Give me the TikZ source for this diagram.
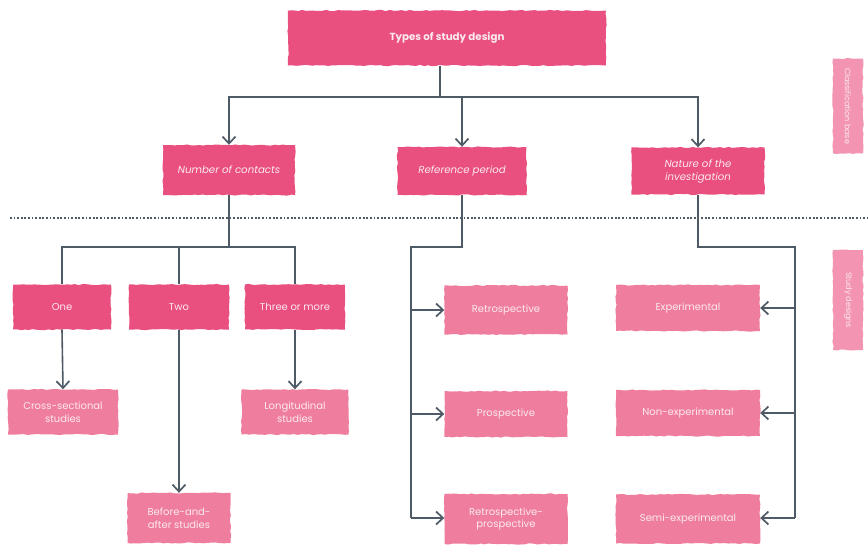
\documentclass[tikz,border=0pt]{standalone}
\usepackage{fontspec}
\setmainfont{Poppins}
\usetikzlibrary{arrows.meta,decorations.pathmorphing}
\definecolor{pkdark}{HTML}{E9507F}
\definecolor{pklight}{HTML}{EF7D9D}
\definecolor{pkside}{HTML}{F294B2}
\definecolor{ln}{HTML}{4E5A66}
\definecolor{txt}{HTML}{FCEAF0}
\pgfmathsetseed{7}
\tikzset{
  rough/.style={decorate, decoration={random steps, segment length=4pt, amplitude=0.6pt}},
  box/.style={draw=none, fill=pkdark, text=txt, align=center, inner sep=2pt, font=\fontsize{10}{12.5}\selectfont, rough},
  leaf/.style={box, fill=pklight},
  side/.style={fill=pkside, text=txt, rotate=-90, align=center, inner sep=1pt, font=\fontsize{8}{9}\selectfont, rough},
  line/.style={draw=ln, line width=1.6pt},
  arr/.style={line, -{Straight Barb[length=7pt,width=13pt,line width=1.7pt]}},
}
\begin{document}
\begin{tikzpicture}[x=1pt,y=-1pt]
\useasboundingbox (0,0) rectangle (868,544);
% nodes
\node[box, minimum width=318, minimum height=55, font=\fontsize{10.3}{12}\selectfont\bfseries] (top) at (447,38) {Types of study design};
\node[box, minimum width=132, minimum height=50, font=\fontsize{10.2}{12}\selectfont\itshape] (nc) at (229,170) {Number of contacts};
\node[box, minimum width=129, minimum height=48, font=\fontsize{10.2}{12}\selectfont\itshape] (rp) at (462,171) {Reference period};
\node[box, minimum width=133, minimum height=47, font=\fontsize{10.2}{13}\selectfont\itshape] (ni) at (698,171) {Nature of the\\investigation};
\node[box, minimum width=98, minimum height=45] (one) at (62,307) {One};
\node[box, minimum width=100, minimum height=45] (two) at (179,307) {Two};
\node[box, minimum width=100, minimum height=45] (three) at (295,307) {Three or more};
\node[leaf, minimum width=110, minimum height=45] (cross) at (63,412) {Cross-sectional\\studies};
\node[leaf, minimum width=107, minimum height=45] (long) at (295,412) {Longitudinal\\studies};
\node[leaf, minimum width=103, minimum height=50] (before) at (179,518) {Before-and-\\after studies};
\node[leaf, minimum width=123, minimum height=49] (retro) at (506,310) {Retrospective};
\node[leaf, minimum width=123, minimum height=46] (pro) at (506,414) {Prospective};
\node[leaf, minimum width=123, minimum height=50] (rpp) at (506,519) {Retrospective-\\prospective};
\node[leaf, minimum width=144, minimum height=46] (exp) at (688,308) {Experimental};
\node[leaf, minimum width=144, minimum height=46] (nonexp) at (688,413) {Non-experimental};
\node[leaf, minimum width=144, minimum height=49] (semi) at (688,519) {Semi-experimental};
\node[side, minimum width=95, minimum height=30] (cb) at (848,106) {Classification base};
\node[side, minimum width=100, minimum height=30] (sd) at (848,300) {Study designs};
% dotted separator
\coordinate (d0) at (10,218);
\coordinate (d1) at (868,218);
\draw[draw=ln, line width=1.5pt, dash pattern=on 1.8pt off 1.8pt] (d0) -- (d1);
% top level connectors
\coordinate (j0) at (440,97);
\draw[line] (top.south -| j0) -- (j0);
\draw[arr] (j0) -| (nc.north);
\draw[arr] (j0) -| (rp.north);
\draw[arr] (j0) -| (ni.north);
% number of contacts
\coordinate (j1) at (229,247);
\draw[line] (nc.south) -- (j1);
\draw[line] (j1) -| (one.north);
\draw[line] (j1) -| (two.north);
\draw[line] (j1) -| (three.north);
\draw[arr] (one.south) -- (cross.north);
\draw[arr] (three.south) -- (long.north);
\draw[arr] (two.south) -- (before.north);
% reference period
\coordinate (rl) at (411,247);
\coordinate (rb) at (411,518);
\draw[line] (rp.south) |- (rl) -- (rb);
\draw[arr] (rl |- retro.west) -- (retro.west);
\draw[arr] (rl |- pro.west) -- (pro.west);
\draw[arr] (rb) -- (rb -| rpp.west);
% nature of investigation
\coordinate (nl) at (795,247);
\coordinate (nb) at (795,518);
\draw[line] (ni.south) |- (nl) -- (nb);
\draw[arr] (nl |- exp.east) -- (exp.east);
\draw[arr] (nl |- nonexp.east) -- (nonexp.east);
\draw[arr] (nb) -- (nb -| semi.east);
\end{tikzpicture}
\end{document}
